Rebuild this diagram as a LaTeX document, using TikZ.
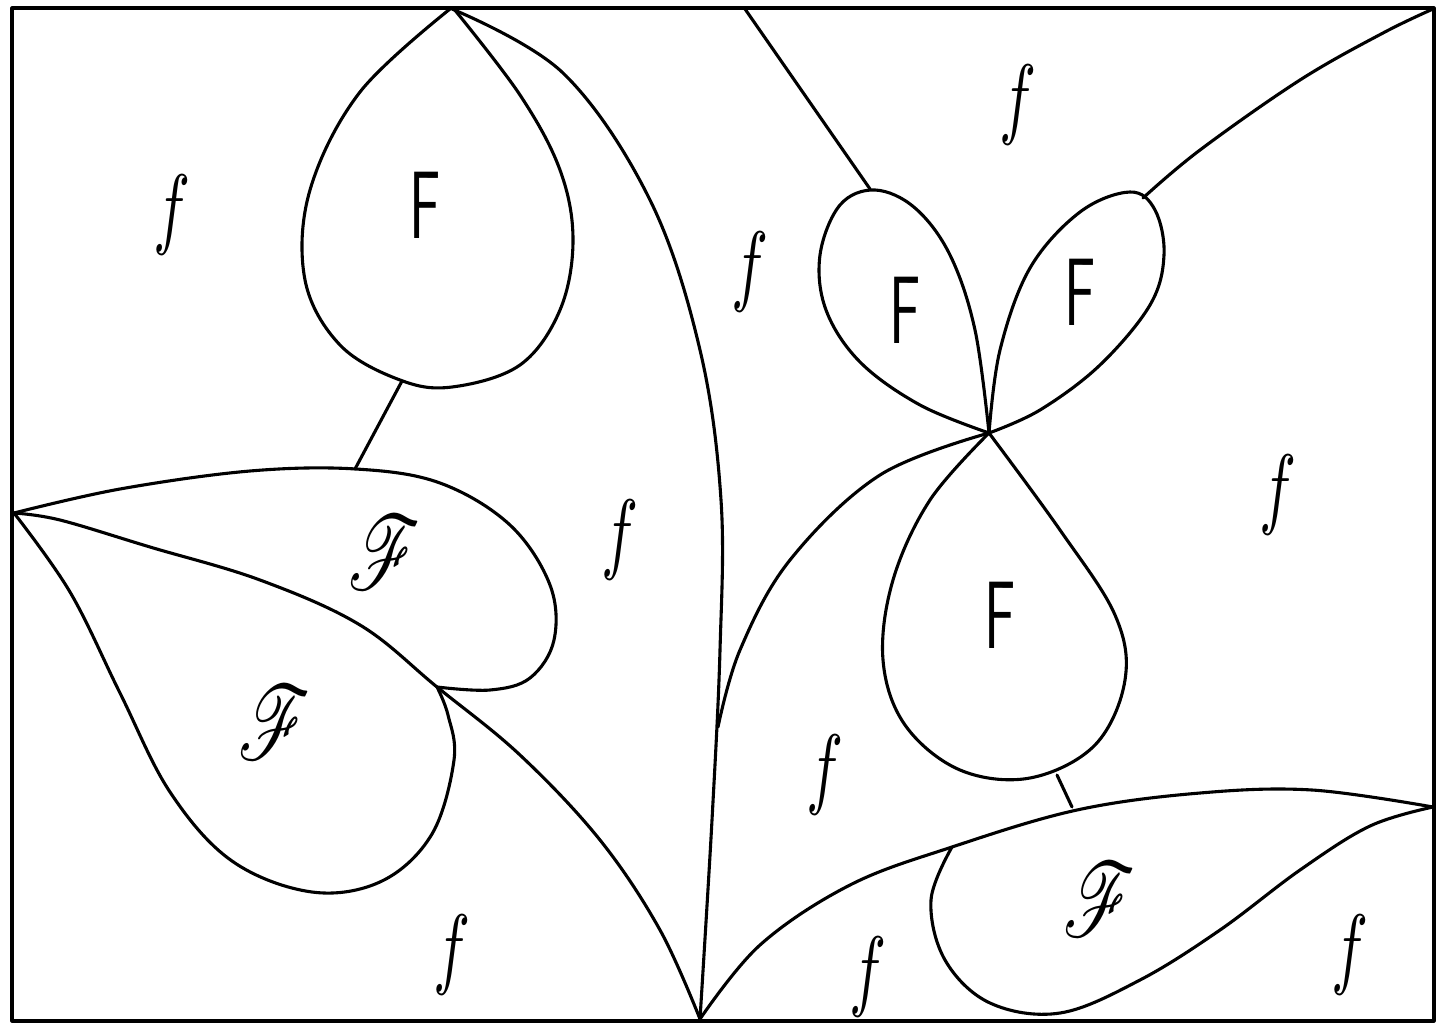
\documentclass[tikz,border=0pt]{standalone}
\usepackage{mathrsfs}
\begin{document}
\begin{tikzpicture}[x=1pt,y=-1pt,line width=3.1pt,line join=round,line cap=round,
  curve/.style={smooth,tension=0.6},
  lf/.style={inner sep=0pt,font=\normalsize},
]
\newcommand{\smallf}{\scalebox{6.2}[9]{$f$}}
\newcommand{\bigF}{\scalebox{5.5}[9.6]{\textsf{F}}}
\newcommand{\scrF}{\scalebox{7}[10.5]{$\mathscr{F}$}}
\useasboundingbox (0,0) rectangle (1439,1025);
\draw (12,8) rectangle (1434,1021);
% key points
\coordinate (T) at (452,9);
\coordinate (B) at (700,1019);
\coordinate (L) at (14,513);
\coordinate (K) at (437,687);
\coordinate (J) at (989,433);
\coordinate (M) at (718,727);
\coordinate (RB) at (1433,807);
\coordinate (RT) at (1433,9);
% big arc from top to bottom
\draw plot[curve] coordinates {(452,9) (563,73) (650,200) (700,350) (721,500) (720,650) (712,820) (700,1019)};
% top-left teardrop
\draw plot[curve] coordinates {(450,9) (360,92) (310,190) (305,280) (340,345) (400,380) (452,387) (520,365) (560,310) (573,240) (560,170) (520,95) (454,9)};
\draw (402,381) -- (355,469);
% left leaf upper
\draw plot[curve] coordinates {(14,513) (120,489) (250,471) (356,469) (440,483) (510,525) (550,585) (554,640) (530,678) (490,690) (437,687)};
% long curve from left point to bottom point
\draw plot[curve] coordinates {(14,513) (60,520) (150,547) (260,580) (360,625) (437,687) (520,755) (600,840) (660,930) (700,1019)};
% lower-left teardrop
\draw plot[curve] coordinates {(14,513) (70,592) (120,693) (170,792) (232,861) (312,892) (382,881) (432,834) (454,760) (448,715) (437,687)};
% curve from butterfly centre to big arc
\draw plot[curve] coordinates {(989,433) (880,475) (790,560) (740,650) (718,727)};
% butterfly upper-left loop
\draw plot[curve] coordinates {(989,433) (920,405) (860,362) (826,310) (820,255) (840,205) (875,190) (915,208) (950,255) (975,330) (989,433)};
% butterfly upper-right loop
\draw plot[curve] coordinates {(989,433) (1000,350) (1030,268) (1080,212) (1130,192) (1155,210) (1164,255) (1150,305) (1100,365) (1040,410) (989,433)};
% butterfly lower loop
\draw plot[curve] coordinates {(989,433) (930,500) (893,580) (883,660) (905,725) (960,770) (1030,778) (1095,745) (1125,680) (1115,615) (1060,530) (989,433)};
\draw (1057,775) -- (1072,807);
% top lines
\draw (745,9) -- (870,189);
\draw plot[curve] coordinates {(1143,198) (1200,150) (1300,80) (1383,33) (1433,9)};
% bottom-right long curve
\draw plot[curve] coordinates {(700,1019) (760,945) (850,885) (952,847) (1077,810) (1200,793) (1312,790) (1433,807)};
% bottom-right teardrop
\draw plot[curve] coordinates {(1433,807) (1370,826) (1300,870) (1220,930) (1140,980) (1060,1013) (990,1003) (945,960) (931,900) (952,847)};
% labels
\node[lf] (f1) at (172,215) {\smallf};
\node[lf] (F1) at (425,205) {\bigF};
\node[lf] (f2) at (750,272) {\smallf};
\node[lf] (f3) at (1018,105) {\smallf};
\node[lf] (F2) at (905,310) {\bigF};
\node[lf] (F3) at (1080,292) {\bigF};
\node[lf] (f4) at (1278,495) {\smallf};
\node[lf] (F4) at (1000,615) {\bigF};
\node[lf] (f5) at (620,540) {\smallf};
\node[lf] (S1) at (385,553) {\scrF};
\node[lf] (S2) at (275,723) {\scrF};
\node[lf] (f6) at (825,775) {\smallf};
\node[lf] (S3) at (1100,900) {\scrF};
\node[lf] (f7) at (452,955) {\smallf};
\node[lf] (f8) at (868,977) {\smallf};
\node[lf] (f9) at (1350,955) {\smallf};
\end{tikzpicture}
\end{document}
